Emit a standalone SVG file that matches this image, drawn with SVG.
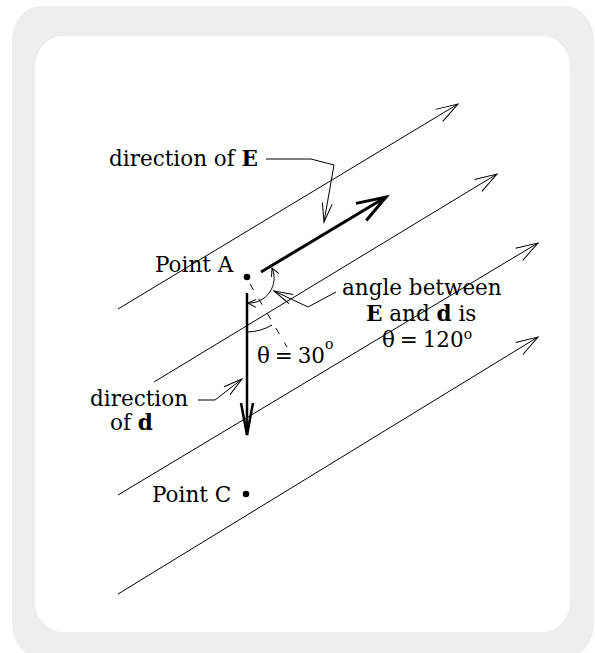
<svg xmlns="http://www.w3.org/2000/svg" width="595" height="653" viewBox="0 0 595 653">
<style>
.t{font-family:"DejaVu Serif","Liberation Serif",serif;font-size:21.5px;fill:#000}
.b{font-weight:bold}
.sup{font-size:14px}
.th{word-spacing:-2px}
.fl{stroke:#000;stroke-width:1;fill:none}
.mk{fill:none;stroke:#000;stroke-linejoin:miter}
</style>
<defs>
<marker id="thin" markerUnits="userSpaceOnUse" orient="auto" overflow="visible" markerWidth="1" markerHeight="1" refX="0" refY="0"><path class="mk" stroke-width="1" d="M-22,-7 L0,0 L-22,7"/></marker>
<marker id="heavy" markerUnits="userSpaceOnUse" orient="auto" overflow="visible" markerWidth="1" markerHeight="1" refX="0" refY="0"><path class="mk" stroke-width="3" d="M-29,-10 L0,0 L-29,10"/></marker>
<marker id="darr" markerUnits="userSpaceOnUse" orient="auto" overflow="visible" markerWidth="1" markerHeight="1" refX="0" refY="0"><path class="mk" stroke-width="2.5" d="M-32,-6 L0,0 L-32,6"/></marker>
<marker id="lead" markerUnits="userSpaceOnUse" orient="auto" overflow="visible" markerWidth="1" markerHeight="1" refX="0" refY="0"><path class="mk" stroke-width="1" d="M-19,-5 L0,0 L-19,5"/></marker>
<marker id="small" markerUnits="userSpaceOnUse" orient="auto-start-reverse" overflow="visible" markerWidth="1" markerHeight="1" refX="0" refY="0"><path class="mk" stroke-width="1" d="M-8,-4 L0,0 L-8,4"/></marker>
</defs>
<g id="background">
<rect x="12" y="6" width="582" height="652" rx="28" ry="35" fill="#eeeeee"/>
<rect x="35" y="36" width="535" height="596" rx="28" ry="31" fill="#ffffff"/>
</g>
<g id="connectors">
<line class="fl" x1="118" y1="309" x2="458" y2="104" marker-end="url(#thin)"/>
<line class="fl" x1="154" y1="382" x2="497" y2="174" marker-end="url(#thin)"/>
<line class="fl" x1="118" y1="495" x2="538" y2="243" marker-end="url(#thin)"/>
<line class="fl" x1="118" y1="594" x2="538" y2="337" marker-end="url(#thin)"/>
<line x1="261" y1="272" x2="386" y2="197" stroke="#000" stroke-width="3" marker-end="url(#heavy)"/>
<line x1="247" y1="293" x2="247" y2="435" stroke="#000" stroke-width="2.5" marker-end="url(#darr)"/>
<line x1="250" y1="284" x2="287" y2="347" stroke="#000" stroke-width="1" stroke-dasharray="7 10"/>
<path class="fl" d="M272,268 A25,25 0 0,1 248,303" marker-start="url(#small)" marker-end="url(#small)"/>
<path class="fl" d="M247,332 A50,50 0 0,0 272,325"/>
<path class="fl" d="M266,159 L311,159 L334,165 L324,222" marker-end="url(#lead)"/>
<path class="fl" d="M336,292 L308,307 L274,291" marker-end="url(#lead)"/>
<path class="fl" d="M198,400 L215,400 L242,379" marker-end="url(#lead)"/>
</g>
<g id="pointA">
<circle cx="247" cy="277" r="3.3" fill="#000"/>
<text class="t" x="155" y="272">Point A</text>
</g>
<g id="pointC">
<circle cx="246" cy="494" r="3.3" fill="#000"/>
<text class="t" x="152" y="502">Point C</text>
</g>
<g id="labelE">
<text class="t" x="109" y="166">direction of <tspan class="b">E</tspan></text>
</g>
<g id="labelAngle">
<text class="t" x="342" y="295">angle between</text>
<text class="t" x="366" y="321"><tspan class="b">E</tspan> and <tspan class="b">d</tspan> is</text>
<text class="t th" x="382" y="347">θ = 120<tspan class="sup" dy="-8">o</tspan></text>
</g>
<g id="labelTheta">
<text class="t th" x="257" y="363">θ = 30<tspan class="sup" dy="-14">o</tspan></text>
</g>
<g id="labelD">
<text class="t" x="90" y="406">direction</text>
<text class="t" x="110" y="430">of  <tspan class="b">d</tspan></text>
</g>
</svg>
